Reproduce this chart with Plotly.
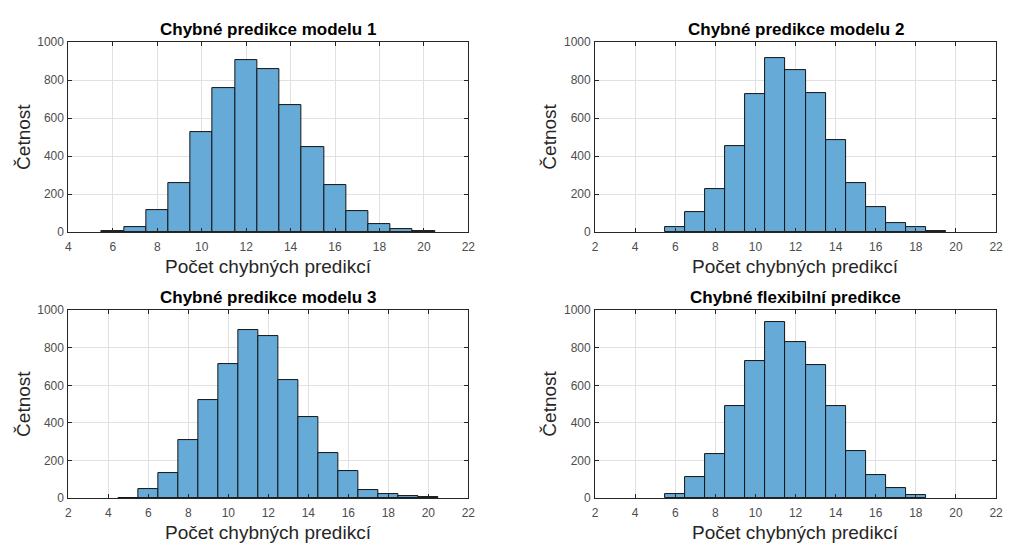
import plotly.graph_objects as go

titles = ["Chybné predikce modelu 1", "Chybné predikce modelu 2",
          "Chybné predikce modelu 3", "Chybné flexibilní predikce"]

bins1 = [6, 7, 8, 9, 10, 11, 12, 13, 14, 15, 16, 17, 18, 19, 20]
counts1 = [5, 24, 118, 259, 527, 759, 904, 860, 671, 445, 249, 109, 41, 14, 5]

bins2 = [6, 7, 8, 9, 10, 11, 12, 13, 14, 15, 16, 17, 18, 19]
counts2 = [24, 106, 224, 454, 727, 915, 855, 732, 483, 259, 131, 49, 24, 5]

bins3 = [5, 6, 7, 8, 9, 10, 11, 12, 13, 14, 15, 16, 17, 18, 19, 20]
counts3 = [3, 46, 134, 310, 523, 711, 893, 862, 628, 432, 238, 146, 43, 22, 10, 5]

bins4 = [6, 7, 8, 9, 10, 11, 12, 13, 14, 15, 16, 17, 18]
counts4 = [22, 114, 234, 487, 728, 938, 830, 709, 491, 248, 124, 55, 17]

xranges = [[4, 22], [2, 22], [2, 22], [2, 22]]
xticks = [[4, 6, 8, 10, 12, 14, 16, 18, 20, 22]] + [[2, 4, 6, 8, 10, 12, 14, 16, 18, 20, 22]] * 3
yticks = [0, 200, 400, 600, 800, 1000]

xlabel = "Počet chybných predikcí"
ylabel = "Četnost"

W, H = 1010, 549
FONT = "Liberation Sans, Arial, sans-serif"
BAR = "rgb(102,170,215)"

# pixel boxes (left, right, top, bottom)
boxes = [(66, 470, 36, 231), (598, 1003, 36, 231),
         (66, 470, 311, 504), (598, 1003, 311, 504)]

fig = go.Figure()
data = [(bins1, counts1), (bins2, counts2), (bins3, counts3), (bins4, counts4)]

for i, ((b, c), box) in enumerate(zip(data, boxes)):
    n = i + 1
    xa = "x" if n == 1 else f"x{n}"
    ya = "y" if n == 1 else f"y{n}"
    fig.add_trace(go.Bar(x=b, y=c, width=1, xaxis=xa, yaxis=ya,
                         marker=dict(color=BAR, line=dict(color="rgb(20,20,20)", width=1)),
                         showlegend=False, hoverinfo="x+y"))
    l, r, t, btm = box
    axkw = dict(showline=True, linecolor="rgb(38,38,38)", linewidth=1, mirror="ticks",
                ticks="inside", ticklen=4, tickcolor="rgb(38,38,38)",
                showgrid=True, gridcolor="rgb(225,225,225)", gridwidth=1,
                zeroline=False, tickfont=dict(family=FONT, size=12, color="rgb(77,77,77)"))
    xkey = "xaxis" if n == 1 else f"xaxis{n}"
    ykey = "yaxis" if n == 1 else f"yaxis{n}"
    fig.update_layout({
        xkey: dict(domain=[l / W, r / W], range=xranges[i], tickvals=xticks[i],
                   anchor=ya, ticklabelstandoff=3, **axkw),
        ykey: dict(domain=[1 - btm / H, 1 - t / H], range=[0, 1000], tickvals=yticks,
                   anchor=xa, ticklabelstandoff=1, **axkw),
    })
    cx = (l + r) / 2
    fig.add_annotation(text=f"<b>{titles[i]}</b>", x=cx / W, y=1 - (t - 13) / H,
                       xref="paper", yref="paper", showarrow=False,
                       xanchor="center", yanchor="middle",
                       font=dict(family=FONT, size=17, color="black"))
    fig.add_annotation(text=xlabel, x=cx / W, y=1 - (btm + 35) / H,
                       xref="paper", yref="paper", showarrow=False,
                       xanchor="center", yanchor="middle",
                       font=dict(family=FONT, size=19, color="rgb(38,38,38)"))
    fig.add_annotation(text=ylabel, x=(l - 46) / W, y=1 - ((t + btm) / 2) / H,
                       xref="paper", yref="paper", showarrow=False, textangle=-90,
                       xanchor="center", yanchor="middle",
                       font=dict(family=FONT, size=19, color="rgb(38,38,38)"))

fig.update_layout(width=W, height=H, margin=dict(l=0, r=0, t=0, b=0),
                  plot_bgcolor="white", paper_bgcolor="white", bargap=0)

fig.write_html("out.html", config={"displayModeBar": False},
               post_script="document.body.style.margin='0';document.body.style.overflow='hidden';")
